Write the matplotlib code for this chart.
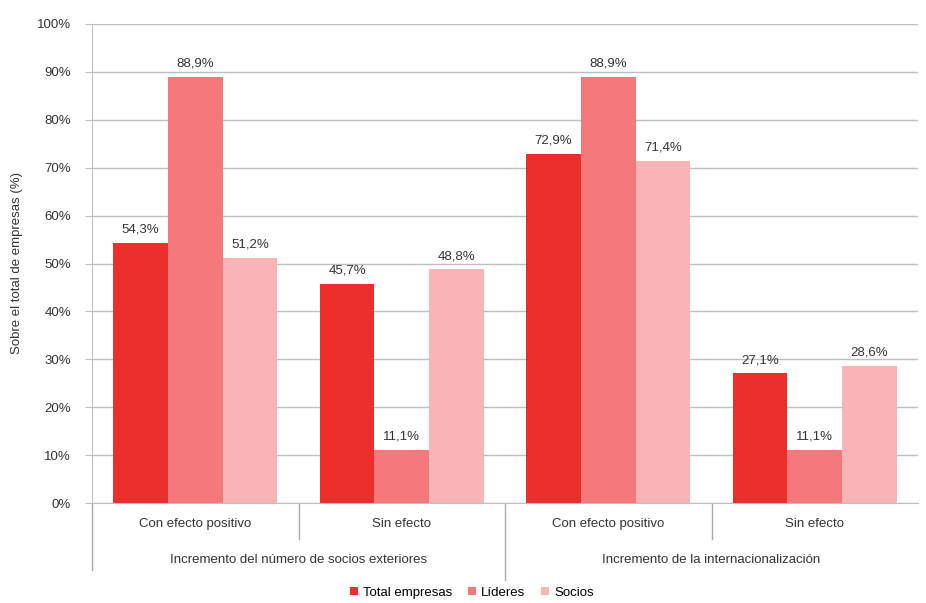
import numpy as np
import matplotlib.pyplot as plt
from matplotlib.transforms import blended_transform_factory

# Data
categories = ['Con efecto positivo', 'Sin efecto', 'Con efecto positivo', 'Sin efecto']
groups = ['Incremento del número de socios exteriores', 'Incremento de la internacionalización']
series_names = ['Total empresas', 'Líderes', 'Socios']
total_empresas = [54.3, 45.7, 72.9, 27.1]
lideres = [88.9, 11.1, 88.9, 11.1]
socios = [51.2, 48.8, 71.4, 28.6]
colors = ['#EC2F2C', '#F4797B', '#F9B4B6']

plt.rcParams['font.family'] = ['Liberation Sans', 'DejaVu Sans']

fig = plt.figure(figsize=(9.26, 6.03), dpi=100)
ax = fig.add_axes([92 / 926, 1 - 503 / 603, 826 / 926, 479 / 603])

x = np.arange(len(categories))
width = 0.265
for i, (vals, name) in enumerate(zip([total_empresas, lideres, socios], series_names)):
    pos = x + (i - 1) * width
    ax.bar(pos, vals, width, color=colors[i], label=name, zorder=3)
    for p, v in zip(pos, vals):
        ax.text(p, v + 1.5, f'{v:.1f}%'.replace('.', ','), ha='center', va='bottom',
                fontsize=9.5, color='#333333')

ax.set_xlim(-0.5, 3.5)
ax.set_ylim(0, 100)
ax.set_yticks(np.arange(0, 101, 10))
ax.set_yticklabels([f'{v}%' for v in range(0, 101, 10)], fontsize=9.5, color='#333333')
ax.yaxis.grid(True, color='#BFBFBF', linewidth=1, zorder=0)
ax.set_ylabel('Sobre el total de empresas (%)', fontsize=9.5, color='#333333', labelpad=10)
ax.tick_params(axis='y', length=5, color='#BFBFBF', pad=10)
ax.tick_params(axis='x', length=0, labelbottom=False)

for s in ['top', 'right']:
    ax.spines[s].set_visible(False)
ax.spines['left'].set_color('#BFBFBF')
ax.spines['bottom'].set_color('#BFBFBF')

# category labels and separators below the axis
trans = blended_transform_factory(ax.transData, ax.transAxes)
for xi, cat in zip(x, categories):
    ax.text(xi, -0.043, cat, transform=trans, ha='center', va='center', fontsize=9.5, color='#333333')
for gi, g in enumerate(groups):
    ax.text(gi * 2 + 0.5, -0.118, g, transform=trans, ha='center', va='center', fontsize=9.5, color='#333333')
for xs, yb in [(-0.5, -0.14), (0.5, -0.075), (1.5, -0.16), (2.5, -0.075)]:
    ax.plot([xs, xs], [0, yb], transform=trans, color='#AAAAAA', linewidth=1, clip_on=False)

ax.legend(loc='center', bbox_to_anchor=(0.46, -0.187), ncol=3, frameon=False,
          fontsize=9.5, handlelength=0.6, handleheight=0.6, handletextpad=0.4, columnspacing=1.2)

fig.savefig('out.png', dpi=100)
